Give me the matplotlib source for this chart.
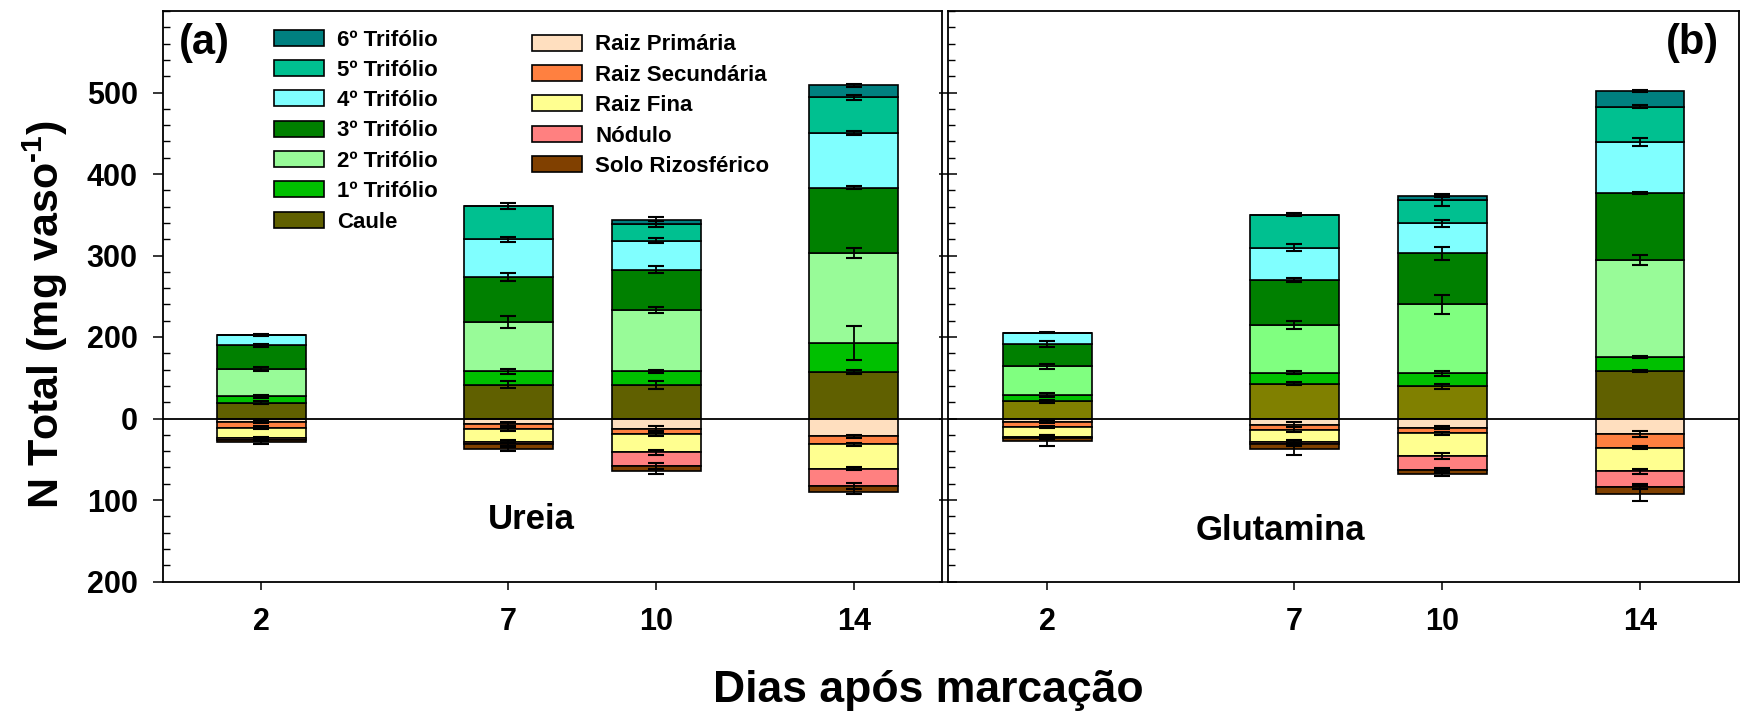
import numpy as np
import matplotlib
matplotlib.use("Agg")
import matplotlib.pyplot as plt
from matplotlib.patches import Patch
from matplotlib.ticker import MultipleLocator, FixedLocator, FixedFormatter

plt.rcParams['font.family'] = ['Liberation Sans', 'DejaVu Sans']
plt.rcParams['font.weight'] = 'bold'
plt.rcParams['mathtext.fontset'] = 'custom'
plt.rcParams['mathtext.rm'] = 'Liberation Sans:bold'
plt.rcParams['mathtext.bf'] = 'Liberation Sans:bold'
plt.rcParams['mathtext.it'] = 'Liberation Sans:bold'

# ---------------- data ----------------
days = np.array([2, 7, 10, 14])

# Ureia (panel a) - shoot components (positive)
caule_u = [19.6, 41.4, 41.4, 56.9]
t1_u = [7.4, 16.3, 16.3, 35.6]
t2_u = [33.6, 60.6, 75.7, 110.4]
t3_u = [29.0, 55.2, 49.1, 80.5]
t4_u = [13.1, 46.6, 35.9, 66.8]
t5_u = [0.0, 40.6, 20.5, 43.7]
t6_u = [0.0, 0.0, 4.1, 14.9]
# Ureia - root components (plotted downward)
rp_u = [4.1, 7.0, 12.3, 21.7]
rs_u = [7.0, 6.1, 6.9, 9.8]
rf_u = [13.0, 15.5, 22.5, 30.3]
nod_u = [1.7, 2.9, 16.8, 21.2]
solo_u = [3.3, 6.1, 6.5, 7.0]
# Ureia errors
e_caule_u = [2, 4.3, 5, 2]
e_t1_u = [2, 2.5, 2, 20.5]
e_t2_u = [2, 7, 4, 6.5]
e_t3_u = [2, 5, 4.5, 2]
e_t4_u = [1.5, 3, 3.5, 2]
e_t5_u = [0, 3.3, 3.5, 2.5]
e_t6_u = [0, 0, 4, 1.5]
e_rp_u = [2, 2.5, 2.5, 2]
e_rs_u = [2, 2, 2, 2]
e_rf_u = [2, 2, 3, 2]
e_nod_u = [2, 2, 3.5, 3.3]
e_solo_u = [2, 2.5, 2.5, 3]

# Glutamina (panel b)
caule_g = [20.9, 42.9, 39.3, 58.5]
t1_g = [7.8, 13.5, 16.4, 17.2]
t2_g = [35.6, 58.2, 84.2, 118.6]
t3_g = [27.4, 55.2, 62.6, 82.6]
t4_g = [13.8, 40.0, 36.8, 62.2]
t5_g = [0.0, 40.5, 28.7, 43.7]
t6_g = [0.0, 0.0, 5.3, 18.9]
rp_g = [3.7, 7.8, 11.1, 19.3]
rs_g = [7.0, 5.7, 7.3, 16.7]
rf_g = [11.8, 15.9, 27.5, 28.6]
nod_g = [1.2, 2.1, 16.7, 19.3]
solo_g = [3.3, 6.2, 6.1, 8.6]
e_caule_g = [2, 2, 2.5, 1.5]
e_t1_g = [2, 2, 3, 1.5]
e_t2_g = [3, 5, 11.7, 6]
e_t3_g = [3.7, 2, 7.5, 1.5]
e_t4_g = [1, 3.7, 4, 5]
e_t5_g = [0, 1.5, 6.7, 2]
e_t6_g = [0, 0, 2, 1]
e_rp_g = [1.5, 3, 2, 3.5]
e_rs_g = [1.5, 2.5, 2, 2]
e_rf_g = [2, 3, 3.5, 3]
e_nod_g = [2, 2, 2, 3]
e_solo_g = [6.6, 7.3, 2, 9.3]

labels_shoot = ['6º Trifólio', '5º Trifólio', '4º Trifólio', '3º Trifólio',
                '2º Trifólio', '1º Trifólio', 'Caule']
labels_root = ['Raiz Primária', 'Raiz Secundária', 'Raiz Fina', 'Nódulo',
               'Solo Rizosférico']

ytick_pos = [-200, -100, 0, 100, 200, 300, 400]
ytick_lab = ['200', '100', '0', '200', '300', '400', '500']

# colours
c_t6 = '#008080'
c_t5 = '#00C090'
c_t4 = '#80FFFF'
c_t3 = '#008000'
c_t2 = '#98FB98'
c_t1 = '#00C000'
c_caule = '#606000'
c_rp = '#FFDFBF'
c_rs = '#FF8040'
c_rf = '#FFFF90'
c_nod = '#FF8080'
c_solo = '#804000'
c_t2_b = ['#80FF80', '#80FF80', '#80FF80', '#98FB98']
c_caule_b = ['#808000', '#808000', '#808000', '#606000']

BW = 1.8
LW = 1.2


def draw_panel(ax, shoot, roots):
    cum = np.zeros(len(days))
    for vals, col, err in shoot:
        v = np.asarray(vals, float)
        e = np.asarray(err, float)
        ax.bar(days, v, BW, bottom=cum, color=col, edgecolor='black',
               linewidth=LW, zorder=2)
        top = cum + v
        m = v > 0
        ax.errorbar(days[m], top[m], yerr=e[m], fmt='none', ecolor='black',
                    elinewidth=1.3, capsize=6, capthick=1.5, zorder=3)
        cum = top
    cum = np.zeros(len(days))
    for vals, col, err in roots:
        v = np.asarray(vals, float)
        e = np.asarray(err, float)
        ax.bar(days, -v, BW, bottom=-cum, color=col, edgecolor='black',
               linewidth=LW, zorder=2)
        bot = -(cum + v)
        m = v > 0
        ax.errorbar(days[m], bot[m], yerr=e[m], fmt='none', ecolor='black',
                    elinewidth=1.3, capsize=6, capthick=1.5, zorder=3)
        cum = cum + v
    ax.axhline(0, color='black', linewidth=1.3, zorder=4)


fig = plt.figure(figsize=(17.42, 7.15), dpi=100)
W, H = 1742, 715
ax1 = fig.add_axes([162.7 / W, (H - 581.5) / H, 779 / W, 570.5 / H])
ax2 = fig.add_axes([948.3 / W, (H - 581.5) / H, 790.5 / W, 570.5 / H])

draw_panel(ax1,
           [(caule_u, c_caule, e_caule_u), (t1_u, c_t1, e_t1_u),
            (t2_u, c_t2, e_t2_u), (t3_u, c_t3, e_t3_u),
            (t4_u, c_t4, e_t4_u), (t5_u, c_t5, e_t5_u),
            (t6_u, c_t6, e_t6_u)],
           [(rp_u, c_rp, e_rp_u), (rs_u, c_rs, e_rs_u),
            (rf_u, c_rf, e_rf_u), (nod_u, c_nod, e_nod_u),
            (solo_u, c_solo, e_solo_u)])
draw_panel(ax2,
           [(caule_g, c_caule_b, e_caule_g), (t1_g, c_t1, e_t1_g),
            (t2_g, c_t2_b, e_t2_g), (t3_g, c_t3, e_t3_g),
            (t4_g, c_t4, e_t4_g), (t5_g, c_t5, e_t5_g),
            (t6_g, c_t6, e_t6_g)],
           [(rp_g, c_rp, e_rp_g), (rs_g, c_rs, e_rs_g),
            (rf_g, c_rf, e_rf_g), (nod_g, c_nod, e_nod_g),
            (solo_g, c_solo, e_solo_g)])

for ax, xmax in ((ax1, 15.78), (ax2, 16.0)):
    ax.set_xlim(0, xmax)
    ax.set_ylim(-200, 500)
    ax.set_xticks(days)
    ax.set_xticklabels([str(d) for d in days], fontsize=22, fontweight='bold')
    ax.tick_params(axis='x', direction='out', length=6, width=1.1, pad=12,
                   top=False)
    ax.yaxis.set_major_locator(FixedLocator(ytick_pos))
    ax.yaxis.set_minor_locator(MultipleLocator(20))
    ax.tick_params(axis='y', which='minor', direction='in', length=5,
                   width=1.0, right=False)
    for s in ax.spines.values():
        s.set_linewidth(1.3)

ax1.yaxis.set_major_formatter(FixedFormatter(ytick_lab))
ax1.tick_params(axis='y', which='major', direction='out', length=7,
                width=1.1, pad=11, labelsize=22)
for t in ax1.get_yticklabels():
    t.set_fontweight('bold')
ax2.tick_params(axis='y', which='major', direction='inout', length=13,
                width=1.1, labelleft=False)

ax1.text(0.053, 0.944, '(a)', transform=ax1.transAxes, fontsize=30,
         fontweight='bold', ha='center', va='center')
ax2.text(0.941, 0.944, '(b)', transform=ax2.transAxes, fontsize=30,
         fontweight='bold', ha='center', va='center')
ax1.text(0.473, 0.108, 'Ureia', transform=ax1.transAxes, fontsize=25,
         fontweight='bold', ha='center', va='center')
ax2.text(0.42, 0.089, 'Glutamina', transform=ax2.transAxes, fontsize=25,
         fontweight='bold', ha='center', va='center')

fig.text(45 / W, 1 - 314 / H, 'N Total (mg vaso$^{\\mathbf{\u2010}\\mathbf{1}}$)',
         rotation=90, fontsize=31, fontweight='bold', ha='center', va='center')
fig.text(928 / W, 1 - 702 / H, 'Dias após marcação', fontsize=32,
         fontweight='bold', ha='center', va='baseline')

shoot_cols = [c_t6, c_t5, c_t4, c_t3, c_t2, c_t1, c_caule]
root_cols = [c_rp, c_rs, c_rf, c_nod, c_solo]
h1 = [Patch(facecolor=c, edgecolor='black', linewidth=LW) for c in shoot_cols]
h2 = [Patch(facecolor=c, edgecolor='black', linewidth=LW) for c in root_cols]
leg_kw = dict(frameon=False, handlelength=2.25, handleheight=0.72,
              handletextpad=0.6, labelspacing=0.42, borderpad=0,
              borderaxespad=0, loc='upper left',
              bbox_transform=fig.transFigure,
              prop={'weight': 'bold', 'size': 16})
leg1 = ax1.legend(h1, labels_shoot, bbox_to_anchor=(273.8 / W, 1 - 29.5 / H),
                  **leg_kw)
ax1.add_artist(leg1)
leg2 = ax1.legend(h2, labels_root, bbox_to_anchor=(531.9 / W, 1 - 34.5 / H),
                  **leg_kw)

fig.savefig('out.png', dpi=100)
